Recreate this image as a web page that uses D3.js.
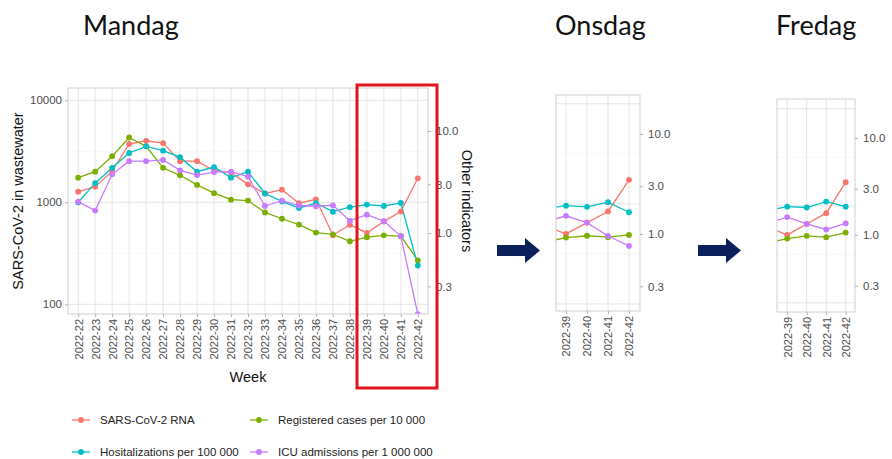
<!DOCTYPE html>
<html>
<head>
<meta charset="utf-8">
<script src="https://cdn.jsdelivr.net/npm/d3@7"></script>
<style>
  body { margin: 0; background: #fff; }
  svg { display: block; }
  text { font-family: "Liberation Sans", Arial, sans-serif; }
</style>
</head>
<body>
<svg id="chart" width="892" height="459"></svg>
<script>
// ---- Monday report: weeks 22–42 ----
const weeks = ["2022-22","2022-23","2022-24","2022-25","2022-26","2022-27","2022-28",
  "2022-29","2022-30","2022-31","2022-32","2022-33","2022-34","2022-35","2022-36",
  "2022-37","2022-38","2022-39","2022-40","2022-41","2022-42"];

// SARS-CoV-2 RNA in wastewater (left axis)
const rnaMon  = [1270, 1420, 2020, 3730, 4010, 3810, 2530, 2530, 2050, 1950, 1500,
                 1220, 1330, 980, 1070, 476, 603, 501, 650, 812, 1720];
// Other indicators (right axis)
const casesMon = [3.49, 3.99, 5.66, 8.64, 7.07, 4.36, 3.68, 2.96, 2.46, 2.12, 2.08,
                  1.59, 1.38, 1.21, 1.01, 0.97, 0.83, 0.91, 0.95, 0.93, 0.54];
const hospMon  = [2.00, 3.08, 4.36, 6.09, 7.07, 6.42, 5.54, 3.99, 4.43, 3.49, 3.99,
                  2.44, 2.04, 1.76, 1.96, 1.62, 1.79, 1.90, 1.84, 1.97, 0.48];
const icuMon   = [2.03, 1.66, 3.76, 5.06, 5.06, 5.21, 4.11, 3.70, 3.96, 3.99, 3.57,
                  1.84, 2.08, 1.86, 1.83, 1.87, 1.32, 1.51, 1.31, 0.93, 0.16];

// ---- Wednesday and Friday updates: last weeks only ----
const weeksLate = ["2022-38","2022-39","2022-40","2022-41","2022-42"];
const rnaWed   = [603, 501, 650, 840, 1740];
const casesWed = [0.83, 0.92, 0.96, 0.93, 0.98];
const hospWed  = [1.79, 1.92, 1.87, 2.08, 1.65];
const icuWed   = [1.32, 1.52, 1.30, 0.955, 0.76];

const rnaFri   = [603, 501, 650, 840, 1750];
const casesFri = [0.83, 0.92, 0.98, 0.95, 1.06];
const hospFri  = [1.79, 1.96, 1.92, 2.21, 1.96];
const icuFri   = [1.32, 1.53, 1.30, 1.14, 1.32];

// Axis ticks
const leftTicks  = [100, 1000, 10000];
const leftMinor  = [316.2, 3162];
const rightTicks = [0.3, 1, 3, 10];
const shownLate  = ["2022-39","2022-40","2022-41","2022-42"];

// Secondary axis: other indicators = wastewater / 500
const SEC_FACTOR = 500;

const seriesInfo = [
  { key: "rna",   label: "SARS-CoV-2 RNA",               color: "#F8766D", left: true },
  { key: "cases", label: "Registered cases per 10 000",   color: "#7CAE00" },
  { key: "hosp",  label: "Hositalizations per 100 000",   color: "#00BFC4" },
  { key: "icu",   label: "ICU admissions per 1 000 000",  color: "#C77CFF" }
];

const panels = [
  { id: "mon", title: "Mandag", titleX: 83,
    cats: weeks, shown: weeks,
    data: { rna: rnaMon, cases: casesMon, hosp: hospMon, icu: icuMon },
    box: { x0: 68, x1: 428, y0: 88, y1: 314 },
    xRange: [68, 428], xPad: 0.6,
    yDomain: [0.1607, 26.4],
    leftAxis: true, rightTitle: true },
  { id: "wed", title: "Onsdag", titleX: 555,
    cats: weeksLate, shown: shownLate,
    data: { rna: rnaWed, cases: casesWed, hosp: hospWed, icu: icuWed },
    box: { x0: 556, x1: 640, y0: 95, y1: 311 },
    xRange: [545, 629], xPad: 0,
    yDomain: [0.170, 24.5] },
  { id: "fri", title: "Fredag", titleX: 776,
    cats: weeksLate, shown: shownLate,
    data: { rna: rnaFri, cases: casesFri, hosp: hospFri, icu: icuFri },
    box: { x0: 777, x1: 855, y0: 99, y1: 312 },
    xRange: [767.7, 845.7], xPad: 0,
    yDomain: [0.161, 25.2] }
];

const svg = d3.select("#chart");
const defs = svg.append("defs");

const GRID = "#e5e5e5", GRID_MINOR = "#f2f2f2", BORDER = "#cfcfcf",
      TICK = "#b3b3b3", LABEL = "#4d4d4d";

panels.forEach(p => {
  const b = p.box;
  const x = d3.scalePoint().domain(p.cats).range(p.xRange).padding(p.xPad);
  const yR = d3.scaleLog().domain(p.yDomain).range([b.y1, b.y0]);
  const yL = d3.scaleLog().domain(p.yDomain.map(d => d * SEC_FACTOR)).range([b.y1, b.y0]);

  // day title
  svg.append("text")
    .attr("x", p.titleX).attr("y", 35)
    .style("font-family", "Lato, 'Open Sans', sans-serif")
    .attr("font-size", 27).attr("fill", "#111")
    .text(p.title);

  const g = svg.append("g");
  g.append("rect").attr("x", b.x0).attr("y", b.y0)
    .attr("width", b.x1 - b.x0).attr("height", b.y1 - b.y0).attr("fill", "#fff");

  // grid
  g.selectAll(".hmin").data(leftMinor).join("line")
    .attr("x1", b.x0).attr("x2", b.x1)
    .attr("y1", d => yL(d)).attr("y2", d => yL(d))
    .attr("stroke", GRID_MINOR).attr("stroke-width", 0.6);
  g.selectAll(".hmaj").data(leftTicks).join("line")
    .attr("x1", b.x0).attr("x2", b.x1)
    .attr("y1", d => yL(d)).attr("y2", d => yL(d))
    .attr("stroke", GRID).attr("stroke-width", 1);
  g.selectAll(".vmaj").data(p.shown).join("line")
    .attr("x1", d => x(d)).attr("x2", d => x(d))
    .attr("y1", b.y0).attr("y2", b.y1)
    .attr("stroke", GRID).attr("stroke-width", 1);

  // clip to panel
  const clipId = "clip-" + p.id;
  defs.append("clipPath").attr("id", clipId).append("rect")
    .attr("x", b.x0).attr("y", b.y0).attr("width", b.x1 - b.x0).attr("height", b.y1 - b.y0);
  const plot = g.append("g").attr("clip-path", `url(#${clipId})`);

  const lineFor = s => d3.line()
    .x((d, i) => x(p.cats[i]))
    .y(d => s.left ? yL(d) : yR(d));

  seriesInfo.forEach(s => {
    plot.append("path").datum(p.data[s.key])
      .attr("d", lineFor(s))
      .attr("fill", "none").attr("stroke", s.color).attr("stroke-width", 1.3);
  });
  seriesInfo.forEach(s => {
    plot.selectAll(null).data(p.data[s.key]).join("circle")
      .attr("cx", (d, i) => x(p.cats[i]))
      .attr("cy", d => s.left ? yL(d) : yR(d))
      .attr("r", 2.9).attr("fill", s.color);
  });

  // border
  g.append("rect").attr("x", b.x0).attr("y", b.y0)
    .attr("width", b.x1 - b.x0).attr("height", b.y1 - b.y0)
    .attr("fill", "none").attr("stroke", BORDER).attr("stroke-width", 1);

  const styleAxis = sel => {
    sel.select(".domain").remove();
    sel.selectAll(".tick line").attr("stroke", TICK);
    sel.selectAll(".tick text").attr("fill", LABEL)
      .style("font-family", "'Liberation Sans', Arial, sans-serif");
  };

  // bottom axis (rotated week labels)
  const xAxis = g.append("g").attr("transform", `translate(0,${b.y1})`)
    .call(d3.axisBottom(x).tickValues(p.shown).tickSize(3).tickPadding(4));
  styleAxis(xAxis);
  xAxis.selectAll(".tick text")
    .attr("font-size", 11)
    .attr("transform", "rotate(-90)")
    .attr("text-anchor", "end")
    .attr("x", -5).attr("y", 0).attr("dy", "0.35em");

  // right axis (other indicators)
  const rAxis = g.append("g").attr("transform", `translate(${b.x1},0)`)
    .call(d3.axisRight(yR).tickValues(rightTicks).tickFormat(d3.format(".1f")).tickSize(3).tickPadding(5));
  styleAxis(rAxis);
  rAxis.selectAll(".tick text").attr("font-size", 11.5);

  if (p.leftAxis) {
    const lAxis = g.append("g").attr("transform", `translate(${b.x0},0)`)
      .call(d3.axisLeft(yL).tickValues(leftTicks).tickFormat(d3.format("d")).tickSize(3).tickPadding(3));
    styleAxis(lAxis);
    lAxis.selectAll(".tick text").attr("font-size", 11.5);

    svg.append("text")
      .attr("transform", `translate(23,${(b.y0 + b.y1) / 2}) rotate(-90)`)
      .attr("text-anchor", "middle").attr("font-size", 14.5).attr("fill", "#111")
      .text("SARS-CoV-2 in wastewater");
    svg.append("text")
      .attr("x", (b.x0 + b.x1) / 2).attr("y", 382)
      .attr("text-anchor", "middle").attr("font-size", 14.5).attr("fill", "#111")
      .text("Week");
  }
  if (p.rightTitle) {
    svg.append("text")
      .attr("transform", `translate(462,${(b.y0 + b.y1) / 2}) rotate(90)`)
      .attr("text-anchor", "middle").attr("font-size", 14.5).attr("fill", "#111")
      .text("Other indicators");
  }
});

// highlight of the last four weeks
svg.append("rect")
  .attr("x", 357).attr("y", 85).attr("width", 80).attr("height", 303)
  .attr("fill", "none").attr("stroke", "#e3151b").attr("stroke-width", 3);

// arrows between panels
const arrow = x0 => {
  const cy = 250.5;
  return `M${x0},${cy - 5.5} L${x0 + 28},${cy - 5.5} L${x0 + 28},${cy - 12.5} L${x0 + 43},${cy}
          L${x0 + 28},${cy + 12.5} L${x0 + 28},${cy + 5.5} L${x0},${cy + 5.5} Z`;
};
[497, 698].forEach(x0 => svg.append("path").attr("d", arrow(x0)).attr("fill", "#0b1f5b"));

// legend
const legendPos = [
  { x: 72, y: 420 }, { x: 250, y: 420 }, { x: 72, y: 452 }, { x: 250, y: 452 }
];
seriesInfo.forEach((s, i) => {
  const lg = svg.append("g").attr("transform", `translate(${legendPos[i].x},${legendPos[i].y})`);
  lg.append("line").attr("x1", 0).attr("x2", 18).attr("stroke", s.color).attr("stroke-width", 1.3);
  lg.append("circle").attr("cx", 9).attr("r", 2.9).attr("fill", s.color);
  lg.append("text").attr("x", 28).attr("dy", "0.35em")
    .attr("font-size", 11.5).attr("fill", "#222").text(s.label);
});
</script>
</body>
</html>
